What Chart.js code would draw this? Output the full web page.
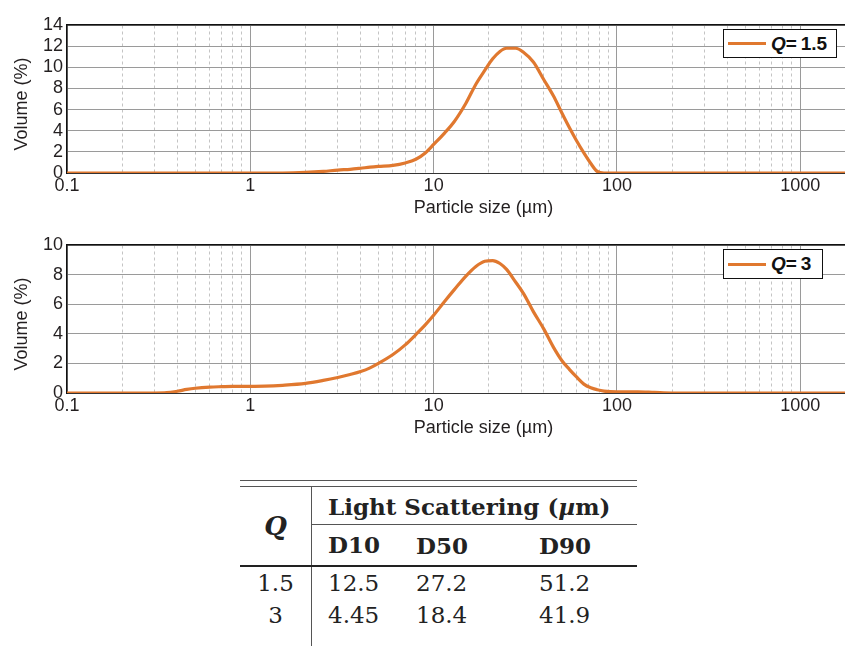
<!DOCTYPE html>
<html>
<head>
<meta charset="utf-8">
<script src="https://cdn.jsdelivr.net/npm/chart.js@4/dist/chart.umd.min.js"></script>
<style>
  html, body { margin: 0; padding: 0; background: #fff; overflow: hidden; width: 845px; height: 646px; }
  .box { position: absolute; left: 0; width: 900px; }
  .leg { position: absolute; border: 1.5px solid #111; background: #fff; font: bold 19px 'Liberation Sans', Arial, sans-serif; color: #111; display: flex; align-items: center; box-sizing: border-box; }
  .leg span.ln { display: inline-block; width: 38px; height: 3px; margin: 0 5px 0 4px; }
  table { position: absolute; left: 240px; top: 480px; width: 397px; border-collapse: collapse; font-family: 'DejaVu Serif', 'Liberation Serif', serif; font-size: 23px; color: #222; }
  td, th { padding: 0; text-align: left; }
</style>
</head>
<body>
<div class="box" style="top:0;height:220px"><canvas id="chart1"></canvas></div>
<div class="box" style="top:225px;height:215px"><canvas id="chart2"></canvas></div>
<div id="leg1" class="leg" style="left:723px;top:29px;width:114px;height:29px"></div>
<div id="leg2" class="leg" style="left:723px;top:249px;width:100px;height:30px"></div>
<div id="tbl"></div>
<script>
// particle size classes (µm)
const sizes = [0.1, 0.2, 0.3, 0.35, 0.4, 0.45, 0.5, 0.6, 0.7, 0.8, 1, 1.2, 1.5, 2, 2.5, 3, 3.5, 4, 4.5, 5,
  6, 7, 8, 9, 10, 11.5, 13, 15, 17, 19, 21, 23, 25, 28, 31, 35, 40, 45, 50, 55,
  60, 66, 72, 78, 85, 100, 130, 160, 200, 500, 1000, 3500];
// volume (%) for Q = 1.5
const volQ15 = [0, 0, 0, 0, 0, 0, 0, 0, 0, 0, 0, 0, 0, 0.05, 0.15, 0.28, 0.35, 0.45, 0.55, 0.62,
  0.72, 0.95, 1.3, 1.9, 2.7, 3.8, 4.9, 6.6, 8.4, 9.7, 10.8, 11.5, 11.8, 11.8, 11.4, 10.5, 8.8, 7.3, 5.7, 4.3,
  3.1, 1.9, 0.9, 0.15, 0, 0, 0, 0, 0, 0, 0, 0];
// volume (%) for Q = 3
const volQ3 = [0, 0, 0, 0.02, 0.12, 0.24, 0.32, 0.4, 0.43, 0.45, 0.45, 0.46, 0.52, 0.65, 0.85, 1.05, 1.25, 1.45, 1.7, 2.0,
  2.6, 3.25, 3.95, 4.6, 5.25, 6.2, 7.0, 7.9, 8.55, 8.9, 8.95, 8.75, 8.35, 7.5, 6.7, 5.5, 4.3, 3.1, 2.2, 1.6,
  1.1, 0.6, 0.35, 0.22, 0.13, 0.08, 0.08, 0.04, 0, 0, 0, 0];

const qLabels = ['1.5', '3'];
const xMajor = [0.1, 1, 10, 100, 1000];
const xTickLabels = ['0.1', '1', '10', '100', '1000'];

// table values
const tblHead = ['D10', 'D50', 'D90'];
const tblRows = [
  ['1.5', '12.5', '27.2', '51.2'],
  ['3', '4.45', '18.4', '41.9']
];

const orange = '#E0782F';
Chart.defaults.font.family = "'Liberation Sans', Arial, sans-serif";
Chart.defaults.font.size = 18;
Chart.defaults.color = '#231f20';

const xMinor = [];
for (let d = 0.1; d < 2000; d *= 10) {
  for (let m = 2; m <= 9; m++) xMinor.push(+(d * m).toPrecision(3));
}
xMinor.push(2000, 3000);

function makeChart(id, vals, label, yMax, padTop) {
  const yAll = [];
  for (let v = 0; v <= yMax; v++) yAll.push({value: v});
  return new Chart(id, {
    type: 'line',
    data: {
      datasets: [{
        label: 'Q = ' + label,
        data: sizes.map((s, i) => ({x: s, y: vals[i]})),
        borderColor: orange,
        borderWidth: 3.2,
        pointRadius: 0,
        fill: false,
        cubicInterpolationMode: 'monotone'
      }]
    },
    options: {
      responsive: true,
      maintainAspectRatio: false,
      animation: false,
      layout: {padding: {top: padTop, left: 0, right: 0, bottom: 0}},
      plugins: {legend: {display: false}, tooltip: {enabled: false}},
      scales: {
        x: {
          type: 'logarithmic',
          min: 0.1, max: 3500,
          afterBuildTicks: s => { s.ticks = xMajor.map(v => ({value: v})); },
          afterFit: s => { s.height = 47; },
          ticks: {callback: (v, i) => xTickLabels[i], padding: 2, maxRotation: 0, autoSkip: false},
          grid: {color: '#9a9a9a', lineWidth: 1, drawTicks: false},
          border: {color: '#333', width: 1},
          title: {display: true, text: 'Particle size (\u00b5m)', padding: {top: 0, bottom: 1}}
        },
        xm: {
          type: 'logarithmic',
          position: 'top',
          min: 0.1, max: 3500,
          afterBuildTicks: s => { s.ticks = xMinor.map(v => ({value: v})); },
          afterFit: s => { s.height = 0; },
          ticks: {display: false},
          grid: {color: '#c4c4c4', lineWidth: 1, drawTicks: false},
          border: {color: '#111', width: 1.5, dash: [3, 3]}
        },
        y: {
          min: 0, max: yMax,
          afterFit: s => { s.width = 67; },
          ticks: {stepSize: 2, padding: 4, autoSkip: false},
          grid: {color: '#9a9a9a', lineWidth: 1, drawTicks: false},
          border: {color: '#111', width: 1.5},
          title: {display: true, text: 'Volume (%)  ', padding: {top: 11, bottom: 0}}
        },
        ym: {
          position: 'left',
          min: 0, max: yMax,
          afterBuildTicks: s => { s.ticks = yAll; },
          afterFit: s => { s.width = 0; },
          ticks: {display: false},
          grid: {drawOnChartArea: false, drawTicks: true, tickLength: 4, tickColor: '#111', tickWidth: 1},
          border: {display: false}
        }
      }
    }
  });
}

makeChart('chart1', volQ15, qLabels[0], 14, 25);
makeChart('chart2', volQ3, qLabels[1], 10, 20);

['leg1', 'leg2'].forEach((id, i) => {
  document.getElementById(id).innerHTML =
    '<span class="ln" style="background:' + orange + '"></span><i>Q</i>=&thinsp;' + qLabels[i];
});

let h = '<table>';
h += '<tr style="border-top:1.2px solid #555"><td colspan="4" style="height:5px;border-bottom:1.2px solid #555"></td></tr>';
h += '<tr><th rowspan="2" style="width:71px;text-align:center;border-right:1.2px solid #555;font-style:italic;font-size:26px">Q</th>' +
  '<th colspan="3" style="padding:6px 0 4px 16px;border-bottom:1.2px solid #555">Light Scattering (<i>\u00b5</i>m)</th></tr>';
h += '<tr style="border-bottom:2.5px solid #222"><th style="padding:6px 0 7px 16px;width:88px">' + tblHead[0] + '</th><th style="width:123px">' + tblHead[1] + '</th><th>' + tblHead[2] + '</th></tr>';
tblRows.forEach(r => {
  h += '<tr><td style="text-align:center;border-right:1.2px solid #555;padding:3px 0">' + r[0] + '</td>' +
    '<td style="padding-left:16px">' + r[1] + '</td><td>' + r[2] + '</td><td>' + r[3] + '</td></tr>';
});
h += '<tr><td style="border-right:1.2px solid #555;height:30px"></td><td></td><td></td><td></td></tr>';
h += '</table>';
document.getElementById('tbl').innerHTML = h;
</script>
</body>
</html>
